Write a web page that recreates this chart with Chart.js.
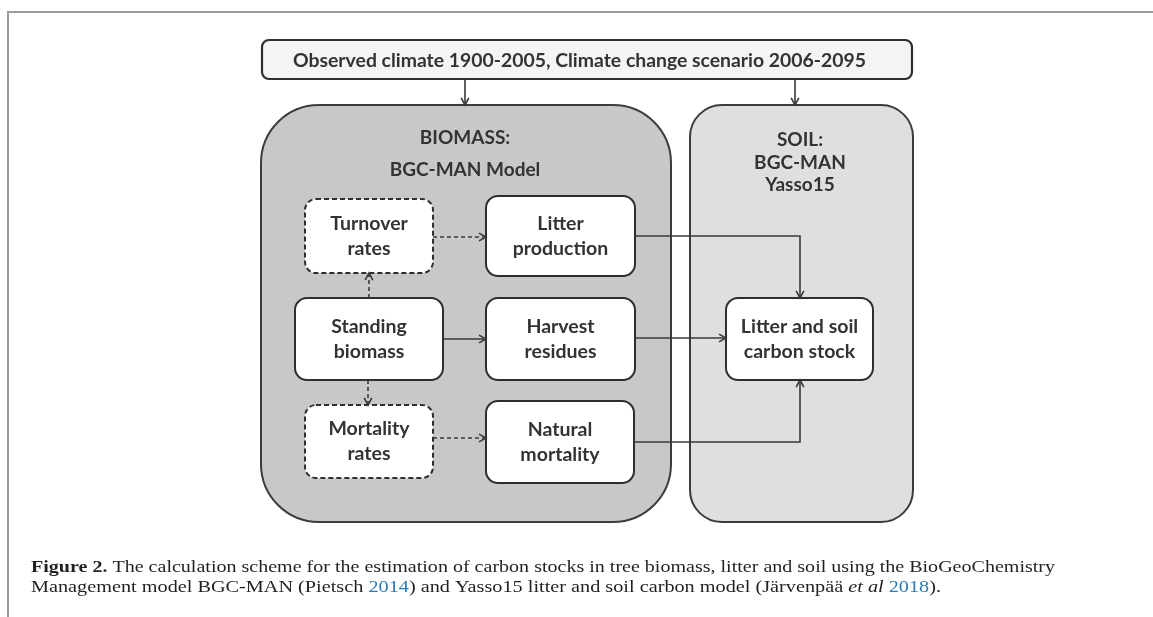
<!DOCTYPE html>
<html><head><meta charset="utf-8">
<script src="https://cdn.jsdelivr.net/npm/chart.js@4.4.1/dist/chart.umd.min.js"></script>
<style>html,body{margin:0;padding:0;background:#fff}canvas{display:block}</style>
</head><body>
<canvas id="c" width="1153" height="617"></canvas>
<script>
// ---- content (text) ----
const headerText = ['Observed climate 1900-2005, Climate change scenario 2006-2095'];
const biomassTitle = ['BIOMASS:', 'BGC-MAN Model'];
const soilTitle = ['SOIL:', 'BGC-MAN', 'Yasso15'];
const nodeIds = ['turnover', 'litter', 'standing', 'harvest', 'mortality', 'natural', 'stock'];
const nodeLabels = [['Turnover', 'rates'], ['Litter', 'production'], ['Standing', 'biomass'], ['Harvest', 'residues'], ['Mortality', 'rates'], ['Natural', 'mortality'], ['Litter and soil', 'carbon stock']];
const nodeDashed = [true, false, false, false, true, false, false];
const linkFrom = ['header', 'header', 'turnover', 'standing', 'standing', 'standing', 'mortality', 'litter', 'harvest', 'natural'];
const linkTo = ['biomass', 'soil', 'litter', 'turnover', 'harvest', 'mortality', 'natural', 'stock', 'stock', 'stock'];
const linkDashed = [false, false, true, true, false, true, true, false, false, false];
const captionLine1 = [['Figure 2.', 'b'], [' The calculation scheme for the estimation of carbon stocks in tree biomass, litter and soil using the BioGeoChemistry', 'n']];
const captionLine2 = [['Management model BGC-MAN (Pietsch ', 'n'], ['2014', 'l'], [') and Yasso15 litter and soil carbon model (Järvenpää ', 'n'], ['et al', 'i'], [' ', 'n'], ['2018', 'l'], [').', 'n']];

// ---- layout (positions in diagram units) ----
const layout = {
  header: {x0: 262, y0: 40, x1: 912, y1: 79, r: 7},
  biomass: {x0: 261, y0: 105, x1: 671, y1: 522, r: 58},
  soil: {x0: 690, y0: 105, x1: 913, y1: 522, r: 32},
  turnover: {x0: 305, y0: 199, x1: 433, y1: 273, r: 11},
  litter: {x0: 486, y0: 196, x1: 635, y1: 276, r: 12},
  standing: {x0: 295, y0: 298, x1: 443, y1: 380, r: 12},
  harvest: {x0: 486, y0: 298, x1: 635, y1: 380, r: 12},
  mortality: {x0: 305, y0: 405, x1: 433, y1: 478, r: 11},
  natural: {x0: 486, y0: 401, x1: 634, y1: 483, r: 12},
  stock: {x0: 726, y0: 298, x1: 873, y1: 380, r: 12}
};
const linkPaths = [
  [[465, 79], [465, 105]],
  [[795, 79], [795, 105]],
  [[433, 237], [486, 237]],
  [[369, 298], [369, 273]],
  [[443, 339], [486, 339]],
  [[368, 380], [368, 405]],
  [[433, 438], [486, 438]],
  [[635, 236], [800, 236], [800, 298]],
  [[635, 338], [726, 338]],
  [[634, 442], [800, 442], [800, 380]]
];

const FONT = 'Lato, "Open Sans", sans-serif';
const ink = '#333333';

const datasets = linkPaths.map((p, i) => ({
  type: 'scatter',
  data: p.map(q => ({x: q[0], y: q[1]})),
  showLine: true,
  borderColor: '#3a3a3a',
  borderWidth: 1.6,
  borderDash: linkDashed[i] ? [4, 3] : [],
  pointRadius: 0,
  tension: 0,
  fill: false
}));

function rr(ctx, x0, y0, x1, y1, r) {
  ctx.beginPath();
  ctx.moveTo(x0 + r, y0);
  ctx.lineTo(x1 - r, y0);
  ctx.arcTo(x1, y0, x1, y0 + r, r);
  ctx.lineTo(x1, y1 - r);
  ctx.arcTo(x1, y1, x1 - r, y1, r);
  ctx.lineTo(x0 + r, y1);
  ctx.arcTo(x0, y1, x0, y1 - r, r);
  ctx.lineTo(x0, y0 + r);
  ctx.arcTo(x0, y0, x0 + r, y0, r);
  ctx.closePath();
}

const diagram = {
  id: 'diagram',
  beforeDatasetsDraw(chart) {
    const ctx = chart.ctx, sx = chart.scales.x, sy = chart.scales.y;
    const px = v => sx.getPixelForValue(v), py = v => sy.getPixelForValue(v);
    const box = (k, fill, stroke, lw, dash) => {
      const b = layout[k];
      ctx.save();
      rr(ctx, px(b.x0), py(b.y0), px(b.x1), py(b.y1), b.r);
      ctx.fillStyle = fill; ctx.fill();
      ctx.setLineDash(dash || []);
      ctx.lineWidth = lw; ctx.strokeStyle = stroke; ctx.stroke();
      ctx.restore();
    };
    // frame
    ctx.save();
    ctx.strokeStyle = '#9a9a9a'; ctx.lineWidth = 2;
    ctx.beginPath(); ctx.moveTo(px(8), py(617)); ctx.lineTo(px(8), py(12)); ctx.lineTo(px(1153), py(12)); ctx.stroke();
    ctx.restore();
    box('header', '#f3f4f3', '#2e2e2e', 2.2);
    box('biomass', '#c8c8c8', '#3c3c3c', 2);
    box('soil', '#dfdfe0', '#3c3c3c', 2);
    nodeIds.forEach((k, i) => box(k, '#ffffff', '#2e2e2e', 2, nodeDashed[i] ? [5, 3] : []));
  },
  afterDatasetsDraw(chart) {
    const ctx = chart.ctx, sx = chart.scales.x, sy = chart.scales.y;
    const px = v => sx.getPixelForValue(v), py = v => sy.getPixelForValue(v);
    // arrowheads
    ctx.save();
    ctx.strokeStyle = '#3a3a3a'; ctx.lineWidth = 1.6;
    linkPaths.forEach(p => {
      const a = p[p.length - 2], b = p[p.length - 1];
      const x1 = px(b[0]), y1 = py(b[1]), x0 = px(a[0]), y0 = py(a[1]);
      const ang = Math.atan2(y1 - y0, x1 - x0), L = 8, w = 0.5;
      ctx.beginPath();
      ctx.moveTo(x1 - L * Math.cos(ang - w), y1 - L * Math.sin(ang - w));
      ctx.lineTo(x1, y1);
      ctx.lineTo(x1 - L * Math.cos(ang + w), y1 - L * Math.sin(ang + w));
      ctx.stroke();
    });
    ctx.restore();
    // text
    ctx.save();
    ctx.fillStyle = ink; ctx.textAlign = 'center'; ctx.textBaseline = 'middle';
    // header fitted to width
    ctx.font = 'bold 19px ' + FONT;
    const hw = ctx.measureText(headerText[0]).width, target = px(866) - px(293);
    ctx.save();
    ctx.translate(px(579.5), py(61));
    ctx.scale(target / hw, 1);
    ctx.fillText(headerText[0], 0, 0);
    ctx.restore();
    ctx.font = 'bold 19px ' + FONT;
    biomassTitle.forEach((t, i) => ctx.fillText(t, px(465), py(138 + i * 32)));
    soilTitle.forEach((t, i) => ctx.fillText(t, px(800), py(140 + i * 22.5)));
    ctx.font = 'bold 19.5px ' + FONT;
    nodeIds.forEach((k, i) => {
      const b = layout[k], cx = (b.x0 + b.x1) / 2, cy = (b.y0 + b.y1) / 2;
      nodeLabels[i].forEach((t, j) => ctx.fillText(t, px(cx), py(cy - 12.5 + j * 25)));
    });
    ctx.restore();
    // caption
    const drawLine = (segs, x0, x1, yb) => {
      const fontOf = s => (s === 'b' ? 'bold ' : s === 'i' ? 'italic ' : '') + '17.5px "Liberation Serif", "DejaVu Serif", serif';
      let tot = 0;
      segs.forEach(([t, s]) => { ctx.font = fontOf(s); tot += ctx.measureText(t).width; });
      const k = (px(x1) - px(x0)) / tot;
      ctx.save();
      ctx.translate(px(x0), py(yb));
      ctx.scale(k, 1);
      ctx.textAlign = 'left'; ctx.textBaseline = 'alphabetic';
      let x = 0;
      segs.forEach(([t, s]) => {
        ctx.font = fontOf(s);
        ctx.fillStyle = s === 'l' ? '#2a7ab5' : '#231f20';
        ctx.fillText(t, x, 0);
        x += ctx.measureText(t).width;
      });
      ctx.restore();
    };
    drawLine(captionLine1, 31, 1055, 572);
    drawLine(captionLine2, 31, 941, 592);
  }
};

new Chart(document.getElementById('c'), {
  type: 'scatter',
  data: {datasets},
  options: {
    responsive: false,
    devicePixelRatio: 1,
    animation: false,
    events: [],
    layout: {padding: 0},
    plugins: {legend: {display: false}, tooltip: {enabled: false}, title: {display: false}},
    scales: {
      x: {type: 'linear', min: 0, max: 1153, display: false},
      y: {type: 'linear', min: 0, max: 617, reverse: true, display: false}
    }
  },
  plugins: [diagram]
});
</script>
</body></html>
